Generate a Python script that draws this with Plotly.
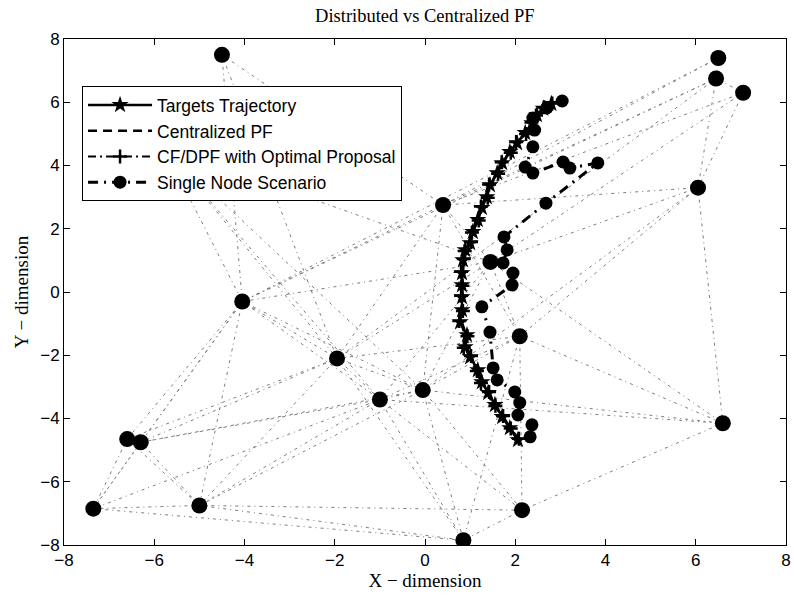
import plotly.graph_objects as go

# Sensor network nodes (x, y); the last node sits underneath the legend box
node_x = [-4.50, 6.50, 6.45, 7.05, 6.05, 0.40, 1.45, -4.05, 2.10, -1.95,
          -0.05, -1.00, -6.60, -6.30, 6.60, -5.00, -7.35, 2.15, 0.85, -5.80]
node_y = [7.50, 7.40, 6.75, 6.30, 3.30, 2.75, 0.95, -0.30, -1.40, -2.10,
          -3.10, -3.40, -4.65, -4.75, -4.15, -6.75, -6.85, -6.90, -7.85, 4.60]
node_id = "ABCDEFGHIJKLMNOPQRSX"

# Communication links between nodes
links = ["AH", "AF", "AJ", "BF", "BC", "BH", "CE", "CF", "CH", "CJ",
         "DE", "DF", "DG", "DC", "EF", "EG", "EI", "EK", "EO",
         "FG", "FH", "FI", "FJ", "FK", "GH", "GI", "GJ", "GK", "GO", "GL",
         "HJ", "HK", "HL", "HM", "HQ", "HP", "HN",
         "IJ", "IK", "IL", "IO", "IR", "IS",
         "JK", "JL", "JM", "JN", "JP", "JS",
         "KL", "KO", "KP", "KR", "KS", "KN",
         "LO", "LN", "LP", "LQ", "LR", "LS",
         "MN", "MQ", "MP", "NP", "NQ", "OR",
         "PQ", "PS", "PR", "QS", "RS",
         "XJ", "XH", "XG", "XK", "XL"]

# True target path
tgt_x = [2.06, 1.88, 1.71, 1.55, 1.40, 1.26, 1.17, 1.00, 0.89, 0.93, 0.78,
         0.82, 0.82, 0.82, 0.82, 0.84, 0.89, 1.00, 1.06, 1.17, 1.26, 1.37,
         1.44, 1.60, 1.71, 1.88, 2.04, 2.22, 2.37, 2.48, 2.62, 2.80]
tgt_y = [-4.68, -4.30, -3.95, -3.57, -3.19, -2.85, -2.47, -2.06, -1.74, -1.36,
         -0.95, -0.57, -0.16, 0.22, 0.60, 1.01, 1.33, 1.55, 1.90, 2.28, 2.66,
         3.00, 3.38, 3.76, 4.08, 4.43, 4.71, 5.03, 5.34, 5.60, 5.80, 5.95]

# Centralized particle filter estimate
cpf_x = [2.02, 1.85, 1.70, 1.52, 1.38, 1.25, 1.13, 0.98, 0.90, 0.88, 0.80,
         0.80, 0.84, 0.80, 0.84, 0.86, 0.92, 0.98, 1.08, 1.15, 1.28, 1.35,
         1.47, 1.58, 1.74, 1.86, 2.06, 2.20, 2.40, 2.50, 2.66, 2.84]
cpf_y = [-4.60, -4.26, -3.90, -3.55, -3.22, -2.80, -2.44, -2.10, -1.70, -1.32,
         -0.98, -0.55, -0.20, 0.25, 0.58, 0.98, 1.30, 1.60, 1.92, 2.30, 2.62,
         3.04, 3.35, 3.80, 4.05, 4.46, 4.68, 5.06, 5.30, 5.62, 5.78, 5.98]

# Distributed filter (CF/DPF) with optimal proposal
dpf_x = [2.08, 1.90, 1.73, 1.56, 1.42, 1.24, 1.15, 1.02, 0.86, 0.94, 0.76,
         0.84, 0.80, 0.83, 0.80, 0.86, 0.88, 1.02, 1.04, 1.19, 1.24, 1.39,
         1.42, 1.62, 1.70, 1.90, 2.02, 2.24, 2.36, 2.46, 2.64, 2.82]
dpf_y = [-4.64, -4.32, -3.92, -3.60, -3.16, -2.88, -2.50, -2.02, -1.76, -1.40,
         -0.92, -0.60, -0.12, 0.20, 0.64, 1.04, 1.30, 1.58, 1.88, 2.26, 2.70,
         2.98, 3.40, 3.74, 4.10, 4.40, 4.74, 5.00, 5.36, 5.58, 5.84, 5.96]

# Estimate from a single node only
sng_x = [2.33, 2.37, 2.06, 2.10, 1.99, 1.60, 1.51, 1.44, 1.26, 1.93, 1.95,
         1.73, 1.82, 1.75, 2.68, 3.83, 3.21, 3.06, 2.39, 2.22, 2.39, 2.43,
         2.39, 2.70, 3.04]
sng_y = [-4.58, -4.20, -3.89, -3.50, -3.16, -2.78, -2.40, -1.27, -0.47, 0.22,
         0.60, 0.92, 1.33, 1.74, 2.81, 4.08, 3.92, 4.11, 3.76, 3.95, 4.59,
         5.12, 5.50, 5.82, 6.04]

fig = go.Figure()

# network links drawn as one broken polyline
ex, ey = [], []
for a, b in links:
    i, j = node_id.index(a), node_id.index(b)
    ex += [node_x[i], node_x[j], None]
    ey += [node_y[i], node_y[j], None]
fig.add_trace(go.Scatter(x=ex, y=ey, mode="lines", showlegend=False,
                         hoverinfo="skip",
                         line=dict(color="rgb(125,125,125)", width=1,
                                   dash="3px,4px,1px,4px")))

fig.add_trace(go.Scatter(x=node_x, y=node_y, mode="markers", showlegend=False,
                         marker=dict(symbol="circle", size=16, color="black")))

fig.add_trace(go.Scatter(x=tgt_x, y=tgt_y, mode="lines+markers",
                         name="Targets Trajectory",
                         line=dict(color="black", width=2.5),
                         marker=dict(symbol="star", size=13, color="black")))
fig.add_trace(go.Scatter(x=cpf_x, y=cpf_y, mode="lines",
                         name="Centralized PF",
                         line=dict(color="black", width=2.5, dash="9px,6px")))
fig.add_trace(go.Scatter(x=dpf_x, y=dpf_y, mode="lines+markers",
                         name="CF/DPF with Optimal Proposal",
                         line=dict(color="black", width=2,
                                   dash="8px,4px,2px,4px"),
                         marker=dict(symbol="cross-thin", size=10,
                                     line=dict(color="black", width=2.5))))
fig.add_trace(go.Scatter(x=sng_x, y=sng_y, mode="lines+markers",
                         name="Single Node Scenario",
                         line=dict(color="black", width=3,
                                   dash="10px,6px,2px,6px"),
                         marker=dict(symbol="circle", size=13, color="black")))

axis_common = dict(range=[-8, 8], dtick=2, ticks="inside", ticklen=6,
                   tickcolor="black", showline=True, linecolor="black",
                   linewidth=1, mirror="ticks", showgrid=False, zeroline=False,
                   automargin=False,
                   tickfont=dict(family="Liberation Sans", size=17,
                                 color="black"))

fig.update_layout(
    width=794, height=599,
    margin=dict(l=64, r=8, t=39, b=54),
    paper_bgcolor="white", plot_bgcolor="white",
    title=dict(text="Distributed vs Centralized PF", x=0.535, xanchor="center",
               y=0.974, yanchor="middle",
               font=dict(family="Liberation Serif", size=18.5, color="black")),
    xaxis=dict(axis_common,
               title=dict(text="X − dimension", standoff=4,
                          font=dict(family="Liberation Serif", size=19,
                                    color="black"))),
    yaxis=dict(axis_common,
               title=dict(text="Y − dimension", standoff=6,
                          font=dict(family="Liberation Serif", size=19,
                                    color="black"))),
    legend=dict(x=0.025, y=0.907, xanchor="left", yanchor="top",
                bgcolor="white", bordercolor="black", borderwidth=1,
                font=dict(family="Liberation Sans", size=17.5, color="black"),
                itemwidth=64, tracegroupgap=0),
    showlegend=True,
)

fig.write_html("out.html")
